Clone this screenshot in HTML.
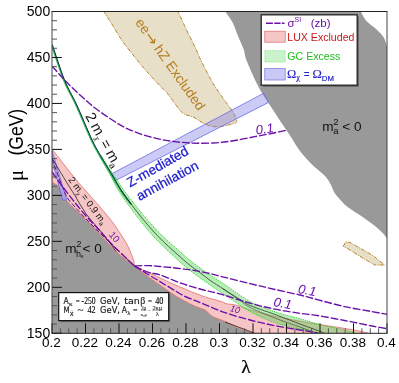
<!DOCTYPE html><html><head><meta charset="utf-8"><title>plot</title>
<style>html,body{margin:0;padding:0;background:#fff}svg{display:block;will-change:transform}text{font-family:"Liberation Sans",sans-serif}.ser{font-family:"Liberation Serif",serif}</style></head><body>
<svg width="399" height="383" viewBox="0 0 399 383">
<defs><clipPath id="fr"><rect x="52" y="11" width="335" height="322"/></clipPath>
<pattern id="gh" width="3" height="3" patternUnits="userSpaceOnUse"><rect width="3" height="3" fill="#5ad85a"/><path d="M0 3L3 0" stroke="#30c830" stroke-width="0.7"/></pattern>
</defs>
<rect width="399" height="383" fill="#fff"/>
<g clip-path="url(#fr)">
<path d="M52.0 182.5 C52.9 183.0 55.7 183.9 57.4 185.5 C59.1 187.1 60.3 189.3 62.0 192.0 C63.7 194.7 64.3 197.7 67.6 201.7 C70.9 205.7 76.6 210.6 82.0 216.0 C87.4 221.4 94.5 228.5 100.2 234.4 C105.9 240.3 110.2 246.1 115.9 251.4 C121.6 256.7 129.0 261.7 134.4 266.0 C139.8 270.3 144.2 273.8 148.5 277.0 C152.8 280.2 156.4 282.6 160.3 285.3 C164.2 288.1 168.1 290.9 172.0 293.5 C175.9 296.1 179.9 298.4 183.8 300.6 C187.7 302.8 192.1 304.9 195.6 306.5 C199.1 308.1 202.2 308.4 205.0 310.0 C207.8 311.6 209.2 314.5 212.5 316.4 C215.8 318.3 220.8 319.5 225.0 321.4 C229.2 323.3 233.0 325.8 237.6 327.7 C242.2 329.6 250.1 332.1 252.6 333.0 L52 333Z" fill="#999"/>
<path d="M225.0 11.0 C226.3 12.9 230.5 18.5 232.6 22.5 C234.7 26.5 235.7 30.4 237.6 35.0 C239.5 39.6 242.4 45.8 243.9 50.0 C245.4 54.2 244.3 54.5 246.4 60.0 C248.5 65.5 253.5 76.7 256.4 82.7 C259.3 88.7 261.6 92.0 264.0 96.0 C266.4 100.0 268.1 102.5 270.8 106.6 C273.5 110.7 276.8 116.0 280.0 120.8 C283.2 125.6 286.7 130.6 290.0 135.6 C293.3 140.6 296.2 146.1 300.0 151.0 C303.8 155.9 308.3 160.8 312.5 165.0 C316.7 169.2 321.9 172.7 325.0 176.0 C328.1 179.3 329.5 182.3 331.0 185.0 C332.5 187.7 332.5 189.6 334.0 192.0 C335.5 194.4 337.7 197.0 340.0 199.5 C342.3 202.0 343.8 204.1 347.6 207.0 C351.4 209.9 358.1 213.8 362.7 217.0 C367.3 220.2 371.7 223.3 375.0 226.0 C378.3 228.7 380.7 230.9 382.7 233.0 C384.7 235.1 386.3 237.5 387.0 238.4 L387 46.4  C386.4 44.8 385.3 39.9 383.5 37.0 C381.7 34.1 378.8 31.6 376.0 29.0 C373.2 26.4 369.2 23.8 367.0 21.5 C364.8 19.2 363.5 16.8 362.5 15.0 C361.5 13.2 361.2 11.7 361.0 11.0 Z" fill="#999"/>
<path d="M103.4 11.0 C104.8 13.1 108.6 18.9 111.7 23.8 C114.8 28.7 118.2 35.0 122.0 40.5 C125.8 46.0 130.5 51.8 134.7 57.0 C138.9 62.2 142.8 67.0 147.0 71.8 C151.2 76.6 156.7 82.3 160.0 85.8 C163.3 89.3 164.6 90.0 166.8 92.6 C169.1 95.2 170.9 98.2 173.5 101.6 C176.1 105.0 179.2 110.4 182.6 113.0 C186.0 115.6 190.6 115.7 194.0 117.4 C197.4 119.1 200.0 121.5 203.0 123.0 C206.0 124.5 209.0 125.8 212.0 126.4 C215.0 127.0 217.7 126.8 221.0 126.4 C224.3 126.0 229.4 124.9 232.0 124.0 C234.6 123.1 236.7 123.0 236.7 120.8 C236.7 118.6 233.9 113.8 232.0 110.6 C230.1 107.4 228.5 105.9 225.5 101.6 C222.5 97.3 217.0 89.8 214.0 85.0 C211.0 80.2 209.7 77.2 207.4 73.0 C205.2 68.8 202.5 63.7 200.5 59.5 C198.5 55.3 197.2 51.6 195.5 48.0 C193.8 44.4 192.5 42.1 190.5 38.0 C188.5 33.9 185.6 28.0 183.5 23.5 C181.4 19.0 178.7 13.1 177.7 11.0" fill="#e8dfc9" stroke="#b5842c" stroke-width="1" stroke-dasharray="4 1.2 1 1.2"/>
<path d="M343.3 246.3 L345.8 241.8 L350.0 242.5 L372.6 255.3 L384.6 265.0 L374.8 265.0 L362.0 257.6 L350.0 250.0Z" fill="#e8dfc9" stroke="#b5842c" stroke-width="1" stroke-dasharray="4 1.2 1 1.2"/>
<path d="M52.0 149.0 C54.0 151.6 60.0 159.3 64.0 164.5 C68.0 169.7 72.8 175.8 76.3 180.0 C79.8 184.2 81.5 186.1 85.0 190.0 C88.5 193.9 92.8 198.7 97.0 203.5 C101.2 208.3 106.3 214.3 110.0 219.0 C113.7 223.7 116.1 227.1 119.0 231.5 C121.9 235.9 125.2 241.0 127.5 245.5 C129.8 250.0 131.8 255.1 133.0 258.5 C134.2 261.9 134.2 264.8 134.4 266.0 C138.7 268.0 152.2 274.4 160.0 278.0 C167.8 281.6 174.0 284.4 181.0 287.4 C188.0 290.4 194.9 293.4 201.8 295.8 C208.7 298.2 218.7 300.7 222.6 302.0 C226.5 303.3 222.5 302.9 225.0 303.5 C227.5 304.1 233.4 304.4 237.6 305.5 C241.8 306.6 243.8 308.2 250.0 310.0 C256.2 311.8 266.7 314.5 275.0 316.4 C283.3 318.3 292.9 319.9 300.0 321.2 C307.1 322.5 309.9 323.0 317.3 324.2 C324.7 325.4 337.5 327.2 344.6 328.4 C351.7 329.6 356.1 330.4 360.0 331.2 C363.9 332.0 366.7 332.9 368.0 333.3 L368 333.3 L252.6 333.3 C250.1 332.1 242.2 329.6 237.6 327.7 C233.0 325.8 229.2 323.3 225.0 321.4 C220.8 319.5 215.8 318.3 212.5 316.4 C209.2 314.5 207.8 311.6 205.0 310.0 C202.2 308.4 199.1 308.1 195.6 306.5 C192.1 304.9 187.7 302.8 183.8 300.6 C179.9 298.4 175.9 296.1 172.0 293.5 C168.1 290.9 164.2 288.1 160.3 285.3 C156.4 282.6 152.8 280.2 148.5 277.0 C144.2 273.8 139.8 270.3 134.4 266.0 C129.0 261.7 121.6 256.7 115.9 251.4 C110.2 246.1 105.9 240.3 100.2 234.4 C94.5 228.5 87.4 221.4 82.0 216.0 C76.6 210.6 70.9 205.7 67.6 201.7 C64.3 197.7 63.7 194.7 62.0 192.0 C60.3 189.3 59.1 187.1 57.4 185.5 C55.7 183.9 52.9 183.0 52.0 182.5Z" fill="#e66464" fill-opacity="0.37" stroke="#e36a6a" stroke-width="0.8"/>
<path d="M52 150.5 L66.8 200 L62.6 200 L52 160Z" fill="#a6a2f0" fill-opacity="0.85" stroke="#6660e0" stroke-width="0.7"/>
<path d="M111.3 174.0 L263.4 93.4 L268.6 102.4 L116.3 180.1Z" fill="#8282e6" fill-opacity="0.42" stroke="#6a6ae6" stroke-width="0.8"/>
<path d="M101.2 155.4 C103.0 158.3 108.6 167.2 112.2 172.8 C115.8 178.4 119.4 184.0 122.9 189.0 C126.5 194.0 129.9 198.3 133.5 202.8 C137.0 207.2 140.6 211.7 144.1 215.9 C147.7 220.1 151.1 224.0 154.7 227.8 C158.2 231.6 161.3 234.8 165.1 238.5 C169.0 242.1 173.5 246.0 177.7 249.6 C181.9 253.3 185.7 256.9 190.3 260.6 C194.8 264.2 199.2 267.5 205.0 271.5 C210.8 275.5 217.5 279.7 225.0 284.7 C232.5 289.7 241.7 296.9 250.0 301.4 C258.3 305.9 266.7 308.9 275.0 311.8 C283.3 314.7 293.2 316.8 300.0 318.7 C306.8 320.6 310.7 322.1 316.0 323.5 C321.3 324.9 327.0 326.2 332.0 327.3 C337.0 328.4 341.8 329.3 346.0 330.3 C350.2 331.3 355.2 333.0 357.0 333.5 L320.0 333.5 C316.7 332.8 307.5 330.8 300.0 329.0 C292.5 327.2 283.3 325.6 275.0 322.7 C266.7 319.8 258.3 316.0 250.0 311.4 C241.7 306.8 233.4 300.6 225.0 295.0 C216.6 289.4 206.1 282.3 199.5 277.5 C192.9 272.7 189.6 270.1 185.1 266.4 C180.6 262.7 176.9 259.0 172.7 255.2 C168.6 251.3 164.1 247.3 160.3 243.5 C156.4 239.7 153.2 236.2 149.7 232.2 C146.3 228.2 142.9 224.1 139.5 219.7 C136.0 215.3 132.5 210.7 129.1 206.0 C125.7 201.3 122.3 196.9 119.1 191.6 C115.9 186.3 113.0 180.1 109.8 174.2 C106.6 168.4 101.3 159.3 99.6 156.4Z" fill="url(#gh)" fill-opacity="0.42" stroke="#25cc25" stroke-width="0.9" stroke-dasharray="1.2 1.1"/>
<path d="M52.0 158.0 C54.2 161.7 61.4 173.7 65.2 180.0 C69.0 186.3 71.5 190.0 75.0 195.7 C78.5 201.4 82.1 208.4 86.1 214.0 C90.1 219.6 95.2 224.7 99.2 229.5 C103.2 234.3 107.2 239.3 110.0 243.0 C112.8 246.7 115.0 250.0 116.0 251.4" fill="none" stroke="#222" stroke-width="0.8"/>
<path d="M225 322 L250 331.4 L256 334" fill="none" stroke="#222" stroke-width="0.8"/>
<path d="M52.0 44.7 C54.1 50.7 60.4 70.6 64.4 80.5 C68.4 90.4 71.4 94.1 76.0 104.0 C80.6 113.9 87.7 131.3 91.8 140.0 C95.9 148.7 97.2 150.3 100.4 155.9 C103.6 161.5 107.6 167.8 111.0 173.5 C114.4 179.2 117.6 185.2 121.0 190.3 C124.4 195.5 129.6 202.1 131.3 204.4" fill="none" stroke="#2cc050" stroke-width="1.8" transform="translate(-0.35,0.15)"/>
<path d="M52.0 44.7 C54.1 50.7 60.4 70.6 64.4 80.5 C68.4 90.4 71.4 94.1 76.0 104.0 C80.6 113.9 87.7 131.3 91.8 140.0 C95.9 148.7 97.2 150.3 100.4 155.9 C103.6 161.5 107.6 167.8 111.0 173.5 C114.4 179.2 117.6 185.2 121.0 190.3 C124.4 195.5 129.6 202.1 131.3 204.4" fill="none" stroke="#152550" stroke-width="1.0" transform="translate(0.25,-0.1)"/>
<path d="M121.0 190.3 C122.7 192.7 127.8 199.8 131.3 204.4 C134.8 209.0 138.3 213.5 141.8 217.8 C145.3 222.1 148.7 226.1 152.2 230.0 C155.7 233.9 158.9 237.3 162.7 241.0 C166.5 244.7 171.0 248.7 175.2 252.4 C179.4 256.1 183.6 260.1 187.7 263.5 C191.8 266.9 196.1 269.8 200.0 272.7 C203.9 275.6 207.2 278.4 211.0 281.0 C214.8 283.6 217.8 285.4 222.6 288.5 C227.4 291.6 235.4 296.7 240.0 299.5 C244.6 302.3 243.3 302.7 250.0 305.5 C256.7 308.3 271.7 313.2 280.0 316.3 C288.3 319.4 293.3 321.5 300.0 324.0 C306.7 326.5 315.7 329.7 320.0 331.4 C324.3 333.1 325.0 333.6 326.0 334.0" fill="none" stroke="#222" stroke-width="0.7"/>
<path d="M222.6 288.5 C225.5 290.5 235.4 297.3 240.0 300.5 C244.6 303.7 243.3 304.2 250.0 307.5 C256.7 310.8 271.7 316.8 280.0 320.0 C288.3 323.2 293.6 324.7 300.0 327.0 C306.4 329.3 315.4 332.8 318.5 334.0" fill="none" stroke="#333" stroke-width="0.6"/>
<path d="M52.0 66.0 C54.2 68.4 60.3 75.7 65.0 80.5 C69.7 85.3 75.0 90.4 80.0 95.0 C85.0 99.6 90.0 104.1 95.0 108.0 C100.0 111.9 105.0 115.2 110.0 118.5 C115.0 121.8 120.0 125.0 125.0 127.6 C130.0 130.2 134.9 132.0 140.0 133.8 C145.1 135.6 150.3 137.0 155.3 138.2 C160.3 139.4 164.2 140.2 170.0 141.0 C175.8 141.8 182.8 142.7 190.0 143.0 C197.2 143.3 205.5 143.4 213.0 143.0 C220.5 142.6 227.5 141.7 235.0 140.5 C242.5 139.3 252.2 137.1 258.0 136.0 C263.8 134.9 266.3 134.5 270.0 133.8 C273.7 133.1 277.2 132.3 280.0 131.7 C282.8 131.1 285.8 130.3 287.0 130.0" fill="none" stroke="#6a10a8" stroke-width="1.35" stroke-dasharray="7.8 1.9"/>
<path d="M134.4 266.0 C136.8 265.9 144.2 265.5 148.5 265.6 C152.8 265.7 154.6 266.0 160.0 266.5 C165.4 267.0 174.0 267.7 181.0 268.6 C188.0 269.5 194.9 270.4 201.8 271.8 C208.7 273.2 214.6 274.8 222.6 276.8 C230.6 278.8 241.3 281.5 250.0 283.6 C258.7 285.7 266.7 287.6 275.0 289.5 C283.3 291.4 292.9 293.3 300.0 295.0 C307.1 296.7 309.9 297.7 317.3 299.6 C324.7 301.5 335.5 304.6 344.6 306.6 C353.7 308.6 364.9 310.3 372.0 311.6 C379.1 312.9 384.5 313.9 387.0 314.3" fill="none" stroke="#6a10a8" stroke-width="1.35" stroke-dasharray="7.8 1.9"/>
<path d="M134.4 266.0 C136.8 267.1 144.2 270.9 148.5 272.4 C152.8 273.9 154.6 273.1 160.0 274.9 C165.4 276.7 174.0 280.8 181.0 283.2 C188.0 285.6 194.9 287.6 201.8 289.5 C208.7 291.4 214.6 292.4 222.6 294.7 C230.6 297.0 241.3 300.8 250.0 303.2 C258.7 305.6 266.7 307.5 275.0 309.2 C283.3 310.9 292.9 312.2 300.0 313.3 C307.1 314.4 309.9 314.3 317.3 315.5 C324.7 316.7 335.5 318.8 344.6 320.5 C353.7 322.2 364.9 324.6 372.0 326.0 C379.1 327.4 384.5 328.2 387.0 328.7" fill="none" stroke="#6a10a8" stroke-width="1.35" stroke-dasharray="7.8 1.9"/>
<path d="M134.4 266.0 C136.8 267.4 144.2 272.1 148.5 274.7 C152.8 277.3 156.4 279.4 160.3 281.8 C164.2 284.2 168.1 286.5 172.0 288.8 C175.9 291.1 179.9 293.9 183.8 295.9 C187.7 297.9 192.1 299.2 195.6 300.6 C199.1 302.1 200.1 302.6 205.0 304.6 C209.9 306.6 217.5 310.0 225.0 312.6 C232.5 315.2 241.7 317.8 250.0 320.0 C258.3 322.2 266.7 324.0 275.0 325.7 C283.3 327.4 292.8 328.8 300.0 330.0 C307.2 331.2 315.0 332.5 318.0 333.0" fill="none" stroke="#6a10a8" stroke-width="1.35" stroke-dasharray="7.8 1.9"/>
<path d="M52.0 172.0 C53.4 174.0 57.1 179.3 60.6 184.0 C64.1 188.7 68.8 194.9 73.0 200.2 C77.2 205.5 81.7 211.0 86.1 216.0 C90.5 221.0 94.9 225.2 99.2 230.0 C103.5 234.8 107.7 240.0 112.0 244.5 C116.3 249.0 121.3 253.4 125.0 257.0 C128.7 260.6 132.8 264.5 134.4 266.0" fill="none" stroke="#6a10a8" stroke-width="1.35" stroke-dasharray="7.8 1.9"/>
<path d="M52.0 158.8 C54.2 164.5 61.2 185.0 65.0 193.0 C68.8 201.0 69.2 200.3 75.0 207.0 C80.8 213.7 90.1 223.2 100.0 233.0 C109.9 242.8 128.7 260.5 134.4 266.0" fill="none" stroke="#5a108a" stroke-width="1" stroke-dasharray="5 2"/>
</g>
<text transform="translate(134.7,22.6) rotate(54.5)" font-size="13.8" fill="#b27e1e">ee<tspan style="font-family:DejaVu Sans,sans-serif" font-size="15.5" dx="0.8" dy="0.8">→</tspan><tspan dy="-0.8" dx="-0.5"> hZ Excluded</tspan></text>
<text transform="translate(85,116) rotate(61)" font-size="14.5" word-spacing="-0.7" fill="#111">2 m<tspan font-size="8" dy="2.6" dx="0.2" class="ser" fill="#000">χ</tspan><tspan dy="-2.6"> = m</tspan><tspan font-size="9" dy="3">a</tspan></text>
<text transform="translate(130,187.5) rotate(-29.5)" font-size="13.5" fill="#1c1ccc" stroke="#1c1ccc" stroke-width="0.25">Z-mediated</text>
<text transform="translate(139.5,201) rotate(-28.5)" font-size="13.5" fill="#1c1ccc" stroke="#1c1ccc" stroke-width="0.25">annihilation</text>
<text transform="translate(256.2,134.4) rotate(-7)" font-size="13" font-style="italic" fill="#6a10a8">0.1</text>
<text transform="translate(297.5,293) rotate(10)" font-size="13" font-style="italic" fill="#6a10a8">0.1</text>
<text transform="translate(273,306) rotate(10)" font-size="13" font-style="italic" fill="#6a10a8">0.1</text>
<text transform="translate(229.5,311) rotate(15)" font-size="9" font-style="italic" fill="#6a10a8">10</text>
<text transform="translate(108.5,235) rotate(50)" font-size="9.5" fill="#6a10a8">10</text>
<text transform="translate(68,179.8) rotate(53)" font-size="9.5" fill="#111">2 m<tspan font-size="6.5" dy="2" class="ser">χ</tspan><tspan dy="-2"> = 0.9 m</tspan><tspan font-size="6.5" dy="2">a</tspan></text>
<text x="322.3" y="131.2" font-size="13.6" fill="#111">m<tspan font-size="9.5" dy="-6.5" dx="-0.5">2</tspan><tspan font-size="9.5" dy="9" dx="-5.3">a</tspan><tspan dy="-2.5"> &lt; 0</tspan></text>
<text x="65.3" y="253" font-size="13.6" fill="#111">m<tspan font-size="9.5" dy="-6.5" dx="-0.5">2</tspan><tspan font-size="9" dy="10" dx="-5.5">h</tspan><tspan font-size="5.5" dy="1.5" dx="-0.3">s</tspan><tspan font-size="13.6" dy="-5" dx="-0.8">&lt; 0</tspan></text>
<rect x="263" y="16.5" width="96" height="70.5" fill="#6e6e6e"/>
<rect x="261.2" y="14.8" width="96" height="70.4" fill="#fff" stroke="#222" stroke-width="1.3"/>
<path d="M266 23.2H284.5" stroke="#6a10a8" stroke-width="1.5" stroke-dasharray="6.9 1.4 6.3 1.2 2.7 9"/>
<text x="287.5" y="26.5" font-size="11.5" fill="#6a10a8">σ<tspan font-size="7" dy="-4.5">SI</tspan><tspan dy="4.5" dx="9.5">(zb)</tspan></text>
<rect x="264.8" y="31.2" width="20.4" height="11" fill="#f4c6c6" stroke="#e36a6a" stroke-width="0.7"/>
<text x="287.3" y="40.8" font-size="10.6" fill="#c81818">LUX Excluded</text>
<rect x="264.8" y="50.6" width="20.4" height="11.5" fill="#cbf3cb" stroke="#6fdc6f" stroke-width="0.7" stroke-dasharray="1.2 1.2"/>
<text x="287.3" y="59.8" font-size="10.6" fill="#1fbb1f">GC Excess</text>
<rect x="264.8" y="68.5" width="20.4" height="11.5" fill="#c9c9f5" stroke="#7474e4" stroke-width="0.7"/>
<text x="287" y="77.6" font-size="12.5" fill="#2020cc" class="ser" stroke="#2020cc" stroke-width="0.1">Ω<tspan font-size="8.5" dy="2.6" stroke-width="0.15">χ</tspan><tspan dy="-2.6" dx="1" style="font-family:Liberation Sans,sans-serif" font-size="10" stroke="none"> = </tspan>Ω<tspan font-size="7.8" dy="3.4" style="font-family:Liberation Sans,sans-serif" stroke-width="0.2">DM</tspan></text>
<rect x="60.3" y="294.2" width="110" height="28" fill="#707070"/>
<rect x="58.7" y="292.6" width="110" height="28" fill="#fff" stroke="#111" stroke-width="1.2"/>
<text transform='translate(63.40,303.60) scale(0.864,1)' font-size='8.8' style='font-family:DejaVu Sans, Liberation Sans, sans-serif' fill='#1a1a1a' stroke='#1a1a1a' stroke-width='0.18' >A</text>
<text transform='translate(69.10,305.80) scale(0.992,1)' font-size='7.0' style='font-family:Liberation Serif, serif' fill='#000' stroke='#000' stroke-width='0.13' >κ</text>
<text transform='translate(75.80,303.60) scale(0.887,1)' font-size='8.0' style='font-family:Liberation Serif, serif' fill='#1a1a1a' stroke='#1a1a1a' stroke-width='0.13' >=</text>
<text transform='translate(81.60,303.60) scale(0.796,1)' font-size='9.6' style='font-family:Liberation Serif, serif' fill='#000' stroke='#000' stroke-width='0.13' >-250</text>
<text transform='translate(100.10,303.60) scale(0.946,1)' font-size='8.8' style='font-family:DejaVu Sans, Liberation Sans, sans-serif' fill='#1a1a1a' stroke='#1a1a1a' stroke-width='0.18' >GeV,</text>
<text transform='translate(124.20,303.60) scale(1.082,1)' font-size='8.8' style='font-family:DejaVu Sans, Liberation Sans, sans-serif' fill='#1a1a1a' stroke='#1a1a1a' stroke-width='0.18' >tan</text>
<text transform='translate(140.20,303.60) scale(1.034,1)' font-size='9.5' style='font-family:Liberation Serif, serif' fill='#1a1a1a' stroke='#1a1a1a' stroke-width='0.13' >β</text>
<text transform='translate(147.90,303.60) scale(0.887,1)' font-size='8.0' style='font-family:Liberation Serif, serif' fill='#1a1a1a' stroke='#1a1a1a' stroke-width='0.13' >=</text>
<text transform='translate(155.20,303.60) scale(0.844,1)' font-size='9.6' style='font-family:Liberation Serif, serif' fill='#000' stroke='#000' stroke-width='0.13' >40</text>
<text transform='translate(63.40,312.80) scale(0.804,1)' font-size='8.8' style='font-family:DejaVu Sans, Liberation Sans, sans-serif' fill='#1a1a1a' stroke='#1a1a1a' stroke-width='0.18' >M</text>
<text transform='translate(70.00,315.00) scale(1.127,1)' font-size='7.0' style='font-family:Liberation Serif, serif' fill='#000' stroke='#000' stroke-width='0.13' >χ</text>
<text x="70.4" y="312.5" font-size="5" class="ser" fill="#1a1a1a">~</text>
<text transform='translate(77.60,312.80) scale(1.167,1)' font-size='9.5' style='font-family:Liberation Serif, serif' fill='#1a1a1a' stroke='#1a1a1a' stroke-width='0.13' >~</text>
<text transform='translate(87.50,312.80) scale(0.844,1)' font-size='9.6' style='font-family:Liberation Serif, serif' fill='#000' stroke='#000' stroke-width='0.13' >42</text>
<text transform='translate(100.10,312.80) scale(0.946,1)' font-size='8.8' style='font-family:DejaVu Sans, Liberation Sans, sans-serif' fill='#1a1a1a' stroke='#1a1a1a' stroke-width='0.18' >GeV,</text>
<text transform='translate(121.80,312.80) scale(0.864,1)' font-size='8.8' style='font-family:DejaVu Sans, Liberation Sans, sans-serif' fill='#1a1a1a' stroke='#1a1a1a' stroke-width='0.18' >A</text>
<text transform='translate(127.30,315.00) scale(0.913,1)' font-size='7.0' style='font-family:Liberation Serif, serif' fill='#000' stroke='#000' stroke-width='0.13' >λ</text>
<text transform='translate(132.90,312.80) scale(0.997,1)' font-size='8.0' style='font-family:Liberation Serif, serif' fill='#1a1a1a' stroke='#1a1a1a' stroke-width='0.13' >=</text>
<text transform='translate(141.00,309.50) scale(1.005,1)' font-size='5.2' style='font-family:Liberation Serif, serif' fill='#333' stroke='#333' stroke-width='0.13' >2μ</text>
<text transform='translate(140.80,315.60) scale(1.137,1)' font-size='5.0' style='font-family:Liberation Serif, serif' fill='#444' stroke='#444' stroke-width='0.13' >s₂ᵦ</text>
<text transform='translate(148.30,312.20) scale(1.051,1)' font-size='6.0' style='font-family:Liberation Serif, serif' fill='#555' stroke='#555' stroke-width='0.13' >-</text>
<text transform='translate(152.40,309.50) scale(1.227,1)' font-size='5.2' style='font-family:Liberation Serif, serif' fill='#333' stroke='#333' stroke-width='0.13' >2κμ</text>
<text transform='translate(155.80,315.70) scale(1.272,1)' font-size='5.2' style='font-family:Liberation Serif, serif' fill='#444' stroke='#444' stroke-width='0.13' >λ</text>
<path d="M140.8 310.5H146.6M152 310.5H162.6" stroke="#666" stroke-width="0.4"/>
<path d="M52.0 20.69h5M52.0 29.89h5M52.0 39.08h5M52.0 48.28h5M52.0 66.66h5M52.0 75.86h5M52.0 85.05h5M52.0 94.25h5M52.0 112.63h5M52.0 121.83h5M52.0 131.02h5M52.0 140.22h5M52.0 158.60h5M52.0 167.80h5M52.0 176.99h5M52.0 186.19h5M52.0 204.57h5M52.0 213.77h5M52.0 222.96h5M52.0 232.16h5M52.0 250.54h5M52.0 259.74h5M52.0 268.93h5M52.0 278.13h5M52.0 296.51h5M52.0 305.71h5M52.0 314.90h5M52.0 324.10h5M60.38 333.3v-5M68.75 333.3v-5M77.12 333.3v-5M93.88 333.3v-5M102.25 333.3v-5M110.62 333.3v-5M127.38 333.3v-5M135.75 333.3v-5M144.12 333.3v-5M160.88 333.3v-5M169.25 333.3v-5M177.62 333.3v-5M194.38 333.3v-5M202.75 333.3v-5M211.12 333.3v-5M227.88 333.3v-5M236.25 333.3v-5M244.62 333.3v-5M261.38 333.3v-5M269.75 333.3v-5M278.12 333.3v-5M294.88 333.3v-5M303.25 333.3v-5M311.62 333.3v-5M328.38 333.3v-5M336.75 333.3v-5M345.12 333.3v-5M361.88 333.3v-5M370.25 333.3v-5M378.62 333.3v-5" stroke="#555" stroke-width="1" fill="none"/>
<path d="M52.0 11.50h10M52.0 57.47h10M52.0 103.44h10M52.0 149.41h10M52.0 195.38h10M52.0 241.35h10M52.0 287.32h10M52.0 333.29h10M52.00 333.3v-10M85.50 333.3v-10M119.00 333.3v-10M152.50 333.3v-10M186.00 333.3v-10M219.50 333.3v-10M253.00 333.3v-10M286.50 333.3v-10M320.00 333.3v-10M353.50 333.3v-10M387.00 333.3v-10" stroke="#111" stroke-width="1" fill="none"/>
<path d="M51.5 11.5H387.5M51.5 333.3H387.5" stroke="#222" stroke-width="1" fill="none"/>
<path d="M52.0 11.5V333.3M387.0 11.5V333.3" stroke="#444" stroke-width="1" fill="none"/>
<text x="50.2" y="16.4" font-size="14" text-anchor="end" fill="#000">500</text>
<text x="50.2" y="62.4" font-size="14" text-anchor="end" fill="#000">450</text>
<text x="50.2" y="108.3" font-size="14" text-anchor="end" fill="#000">400</text>
<text x="50.2" y="154.3" font-size="14" text-anchor="end" fill="#000">350</text>
<text x="50.2" y="200.3" font-size="14" text-anchor="end" fill="#000">300</text>
<text x="50.2" y="246.2" font-size="14" text-anchor="end" fill="#000">250</text>
<text x="50.2" y="292.2" font-size="14" text-anchor="end" fill="#000">200</text>
<text x="50.2" y="338.2" font-size="14" text-anchor="end" fill="#000">150</text>
<text x="51.4" y="346.9" font-size="13.5" text-anchor="middle" fill="#000">0.2</text>
<text x="84.9" y="346.9" font-size="13.5" text-anchor="middle" fill="#000">0.22</text>
<text x="118.4" y="346.9" font-size="13.5" text-anchor="middle" fill="#000">0.24</text>
<text x="151.9" y="346.9" font-size="13.5" text-anchor="middle" fill="#000">0.26</text>
<text x="185.4" y="346.9" font-size="13.5" text-anchor="middle" fill="#000">0.28</text>
<text x="218.9" y="346.9" font-size="13.5" text-anchor="middle" fill="#000">0.3</text>
<text x="252.4" y="346.9" font-size="13.5" text-anchor="middle" fill="#000">0.32</text>
<text x="285.9" y="346.9" font-size="13.5" text-anchor="middle" fill="#000">0.34</text>
<text x="319.4" y="346.9" font-size="13.5" text-anchor="middle" fill="#000">0.36</text>
<text x="352.9" y="346.9" font-size="13.5" text-anchor="middle" fill="#000">0.38</text>
<text x="386.4" y="346.9" font-size="13.5" text-anchor="middle" fill="#000">0.4</text>
<text transform="translate(22.5,181.3) rotate(-90)" font-size="21" class="ser" fill="#000">μ</text>
<text transform="translate(23.3,155.6) rotate(-90) scale(0.9,1)" font-size="19.5" fill="#000">(GeV)</text>
<text x="246" y="373.3" font-size="19.5" class="ser" text-anchor="middle" fill="#000" stroke="#000" stroke-width="0.2">λ</text>
</svg></body></html>
